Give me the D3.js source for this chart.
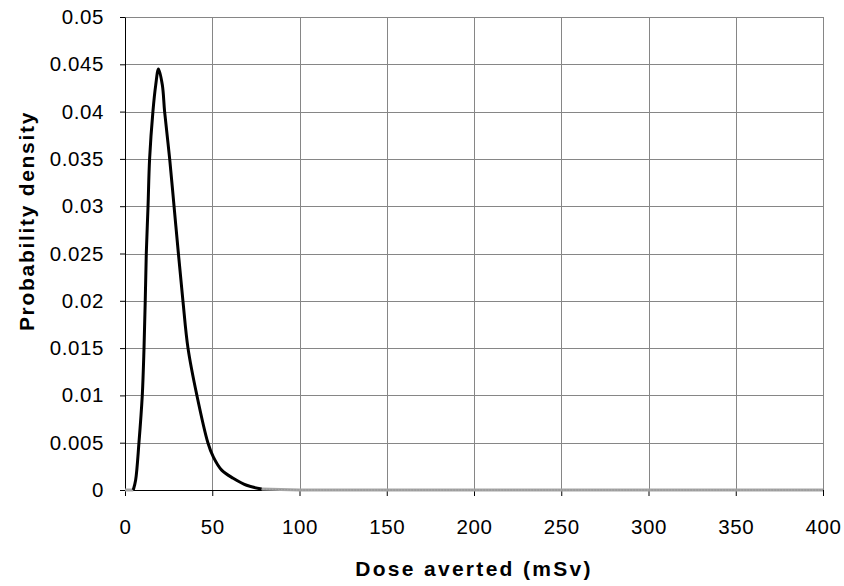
<!DOCTYPE html>
<html>
<head>
<meta charset="utf-8">
<title>Probability density of dose averted</title>
<script src="https://cdn.jsdelivr.net/npm/d3@7"></script>
<style>
  body { margin: 0; background: #fff; }
  text { font-family: "Liberation Sans", Arial, sans-serif; fill: #000; }
  .tick text { font-size: 20.5px; letter-spacing: 0.6px; }
  .axisTitle { font-size: 21px; font-weight: bold; letter-spacing: 2.3px; }
  .yTitle { letter-spacing: 1.7px; }
</style>
</head>
<body>
<svg id="svg"></svg>
<script>
// curve (dose in mSv, density)
var dose    = [0, 4.75, 6.1, 8.0, 9.9, 10.9, 11.6, 12.2, 13.2, 14.1, 16.0, 17.6, 19.2, 21.4, 22.7, 25.6, 28.1, 30.6, 33.2, 36.1, 41.2, 47.5, 50.6, 55.4, 62.0, 69.7, 78.3, 100, 150, 200, 250, 300, 350, 400];
var density = [0, 0, 0.00106, 0.005, 0.01, 0.015, 0.02, 0.025, 0.03, 0.035, 0.04, 0.0428, 0.0445, 0.0428, 0.04, 0.035, 0.03, 0.025, 0.02, 0.015, 0.01, 0.005, 0.0035, 0.0021, 0.00124, 0.0005, 0.0001, 0, 0, 0, 0, 0, 0, 0];
var xTicks = [0, 50, 100, 150, 200, 250, 300, 350, 400];
var yTicks = [0, 0.005, 0.01, 0.015, 0.02, 0.025, 0.03, 0.035, 0.04, 0.045, 0.05];
var xTitle = "Dose averted (mSv)";
var yTitle = "Probability density";

var width = 844, height = 586,
    margins = {top: 17, left: 125, right: 21, bottom: 96};

var svg = d3.select("#svg")
    .attr("width", width)
    .attr("height", height);

var scaleX = d3.scaleLinear().domain([0, 400]).range([margins.left, width - margins.right]);
var scaleY = d3.scaleLinear().domain([0, 0.05]).range([height - margins.bottom, margins.top]);

// gridlines
var grid = svg.append("g").attr("stroke", "#868686").attr("stroke-width", 1);
grid.selectAll(".gy").data(yTicks.slice(1)).enter().append("line")
    .attr("x1", scaleX(0)).attr("x2", scaleX(400))
    .attr("y1", function(d) { return Math.round(scaleY(d)) + 0.5; })
    .attr("y2", function(d) { return Math.round(scaleY(d)) + 0.5; });
grid.selectAll(".gx").data(xTicks.slice(1)).enter().append("line")
    .attr("y1", scaleY(0)).attr("y2", scaleY(0.05))
    .attr("x1", function(d) { return Math.round(scaleX(d)) + 0.5; })
    .attr("x2", function(d) { return Math.round(scaleX(d)) + 0.5; });

// axes
var axisX = d3.axisBottom(scaleX).tickValues(xTicks).tickSize(6).tickPadding(23).tickSizeOuter(0);
var axisY = d3.axisLeft(scaleY).tickValues(yTicks).tickSize(5).tickPadding(16).tickSizeOuter(0)
    .tickFormat(function(d) { return String(+d.toFixed(3)); });

var gx = svg.append("g").attr("transform", "translate(0," + scaleY(0) + ")").call(axisX);
var gy = svg.append("g").attr("transform", "translate(" + scaleX(0) + ",0)").call(axisY);
[gx, gy].forEach(function(g) {
    g.select(".domain").attr("stroke", "#000");
    g.selectAll(".tick line").attr("stroke", "#000");
    g.selectAll(".tick text").attr("font-family", null).attr("font-size", null);
});

// curve: faint grey where it lies on the axis, black elsewhere
var line = d3.line()
    .x(function(d) { return scaleX(d[0]); })
    .y(function(d) { return scaleY(d[1]); });

var pts = dose.map(function(d, i) { return [d, density[i]]; });
var first = 1, last = 26;

svg.append("path").datum(pts.slice(0, first + 1))
    .attr("fill", "none").attr("stroke", "#a6a6a6").attr("stroke-width", 3)
    .attr("d", line);
svg.append("path").datum(pts.slice(last))
    .attr("fill", "none").attr("stroke", "#a6a6a6").attr("stroke-width", 3)
    .attr("d", line);
svg.append("path").datum(pts.slice(last))
    .attr("fill", "none").attr("stroke", "#8a8a8a").attr("stroke-width", 1)
    .attr("stroke-dasharray", "1,2")
    .attr("d", line);
svg.append("path").datum(pts.slice(first, last + 1))
    .attr("fill", "none").attr("stroke", "#000").attr("stroke-width", 3)
    .attr("stroke-linejoin", "round")
    .attr("d", line.curve(d3.curveCatmullRom.alpha(0.5)));

// axis titles
svg.append("text").attr("class", "axisTitle")
    .attr("x", (scaleX(0) + scaleX(400)) / 2).attr("y", 576)
    .attr("text-anchor", "middle")
    .text(xTitle);

svg.append("text").attr("class", "axisTitle yTitle")
    .attr("transform", "translate(34,221)rotate(-90)")
    .attr("text-anchor", "middle")
    .text(yTitle);
</script>
</body>
</html>
